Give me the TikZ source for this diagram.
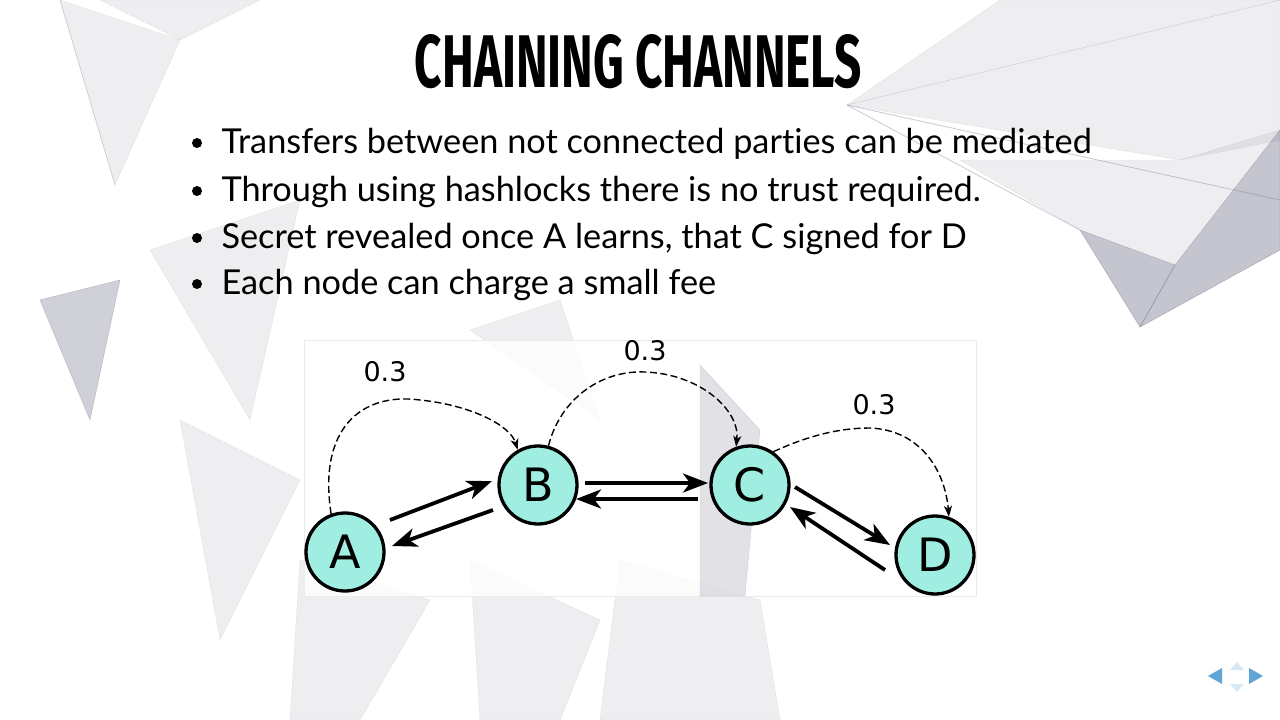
\documentclass[tikz,border=0pt]{standalone}
\usepackage{fontspec}
\setmainfont[Ligatures=NoCommon]{Lato}
\newfontfamily\dejavu{DejaVu Sans}
\newfontfamily\firab{Fira Sans}
\usetikzlibrary{arrows.meta}
\definecolor{nodefill}{RGB}{160,238,226}
\definecolor{polyA}{RGB}{120,122,145}
\definecolor{navblue}{RGB}{95,165,215}
\tikzset{
  gnode/.style={circle, draw=black, line width=3.3pt, fill=nodefill, minimum size=78pt, inner sep=0pt, font=\dejavu\fontsize{46}{46}\selectfont},
  thick arrow/.style={line width=3.8pt, -{Stealth[length=25pt, width=19pt, inset=7pt]}},
  dash arrow/.style={line width=1.4pt, dash pattern=on 7pt off 3.5pt, -{Stealth[length=11pt, width=8pt, inset=3pt]}},
  wlabel/.style={font=\dejavu\fontsize{27}{27}\selectfont},
  bullettext/.style={anchor=base west, font=\fontsize{34.3}{35}\selectfont, text=black},
  poly/.style={fill=polyA, draw=polyA!80!black, line width=0.4pt},
}
\begin{document}
\begin{tikzpicture}[x=1pt,y=-1pt]
\useasboundingbox (0,0) rectangle (1280,720);
\fill[white] (0,0) rectangle (1280,720);
% background polygons
\begin{scope}[opacity=0.12]
\fill[poly] (60,0) -- (115,185) -- (180,40) -- cycle;
\fill[poly] (100,0) -- (260,0) -- (180,40) -- cycle;
\fill[poly] (847,105) -- (1280,0) -- (1000,0) -- cycle;
\fill[poly] (847,105) -- (1280,0) -- (1280,140) -- (1180,160) -- cycle;
\fill[poly] (960,160) -- (1180,160) -- (1280,130) -- (1280,250) -- (1140,327) -- (1080,230) -- cycle;
\fill[poly] (150,250) -- (300,200) -- (250,420) -- cycle;
\fill[poly] (180,420) -- (300,480) -- (220,640) -- cycle;
\fill[poly] (300,560) -- (430,600) -- (360,720) -- (290,720) -- cycle;
\fill[poly] (470,560) -- (600,620) -- (560,720) -- (480,720) -- cycle;
\fill[poly] (620,560) -- (760,600) -- (780,720) -- (600,720) -- cycle;
\fill[poly] (470,330) -- (560,300) -- (600,420) -- cycle;
\end{scope}
\begin{scope}[opacity=0.35]
\fill[poly] (1080,230) -- (1140,327) -- (1175,265) -- cycle;
\fill[poly] (1175,265) -- (1280,130) -- (1280,250) -- (1140,327) -- cycle;
\fill[poly] (40,300) -- (120,280) -- (90,420) -- cycle;
\end{scope}
\draw[polyA, opacity=0.4, line width=0.8pt] (847,105) -- (1280,200);
\draw[polyA, opacity=0.4, line width=0.8pt] (847,105) -- (1080,230);
\draw[polyA, opacity=0.3, line width=0.6pt] (60,0) -- (115,185);
% title
\node (title) at (638.5,61.5) {\resizebox{447pt}{53pt}{\firab\bfseries CHAINING CHANNELS}};
% bullets
\foreach \yy/\txt [count=\i] in {153/{Transfers between not connected parties can be mediated},
  201/{Through using hashlocks there is no trust required.},
  248/{Secret revealed once A learns, that C signed for D},
  294/{Each node can charge a small fee}} {
  \fill[black] (197,\yy-10) circle (5pt);
  \node[bullettext] (b\i) at (218,\yy) {\txt};
}
% diagram panel
\fill[white, opacity=0.8] (304,340) rectangle (976,596);
\draw[black!8, line width=0.8pt] (304,340) rectangle (976,596);
\begin{scope}[opacity=0.22]
\fill[poly] (700,365) -- (760,430) -- (745,596) -- (700,596) -- cycle;
\end{scope}
% nodes
\node[gnode] (A) at (345,552) {A};
\node[gnode] (B) at (538,485) {B};
\node[gnode] (C) at (750,485) {C};
\node[gnode] (D) at (935,555) {D};
% channel arrows
\coordinate (ab1) at (390,520); \coordinate (ab2) at (492,481);
\coordinate (ba1) at (493,510); \coordinate (ba2) at (392,546);
\coordinate (bc1) at (585,483); \coordinate (bc2) at (708,483);
\coordinate (cb1) at (698,499); \coordinate (cb2) at (576,499);
\coordinate (cd1) at (795,487); \coordinate (cd2) at (890,545);
\coordinate (dc1) at (885,570); \coordinate (dc2) at (790,507);
\draw[thick arrow] (ab1) -- (ab2);
\draw[thick arrow] (ba1) -- (ba2);
\draw[thick arrow] (bc1) -- (bc2);
\draw[thick arrow] (cb1) -- (cb2);
\draw[thick arrow] (cd1) -- (cd2);
\draw[thick arrow] (dc1) -- (dc2);
% dashed hops
\draw[dash arrow] (A.110) .. controls (318,430) and (360,392) .. (420,400) .. controls (470,405) and (510,425) .. (B.120);
\draw[dash arrow] (B.75) .. controls (560,400) and (600,370) .. (645,372) .. controls (700,374) and (740,410) .. (C.110);
\draw[dash arrow] (C.55) .. controls (810,435) and (840,428) .. (870,428) .. controls (920,430) and (945,470) .. (D.70);
% weights
\node[wlabel] (w1) at (385,372) {0.3};
\node[wlabel] (w2) at (645,351) {0.3};
\node[wlabel] (w3) at (874,405) {0.3};
% navigation
\fill[navblue!25] (1237,662) -- (1244,670) -- (1230,670) -- cycle;
\fill[navblue!25] (1237,692) -- (1244,684) -- (1230,684) -- cycle;
\fill[navblue] (1208,676) -- (1222,668) -- (1222,684) -- cycle;
\fill[navblue] (1263,676) -- (1249,668) -- (1249,684) -- cycle;
\end{tikzpicture}
\end{document}
